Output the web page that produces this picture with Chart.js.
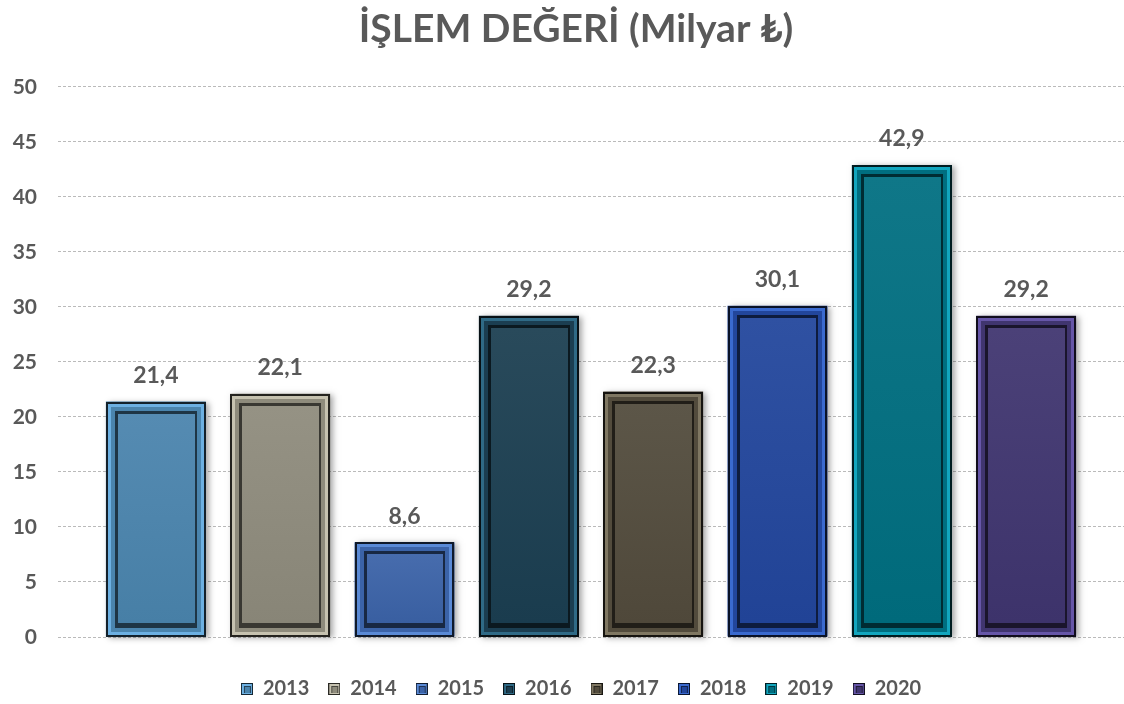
<!DOCTYPE html>
<html>
<head>
<meta charset="utf-8">
<script src="https://cdn.jsdelivr.net/npm/chart.js@4.4.1/dist/chart.umd.min.js"></script>
<style>
  html, body { margin: 0; padding: 0; background: #ffffff; }
  #wrap { width: 1124px; height: 704px; }
</style>
</head>
<body>
<div id="wrap"><canvas id="c" width="1124" height="704"></canvas></div>
<script>
// ---- data ----
const chartTitle = 'İŞLEM DEĞERİ (Milyar ₺)';
const categories = [''];
const seriesNames = ['2013', '2014', '2015', '2016', '2017', '2018', '2019', '2020'];
const seriesValues = [21.4, 22.1, 8.6, 29.2, 22.3, 30.1, 42.9, 29.2];
const yTicks = [0, 5, 10, 15, 20, 25, 30, 35, 40, 45, 50];

// ---- styles ----
const baseColors = ['#4a84ad', '#8e8b7c', '#3b63a8', '#1b3e51', '#524b3c', '#22469c', '#006e80', '#40356f'];
const lightColors = ['#6cb0e2', '#c6c2b0', '#5a8ad6', '#2f6a86', '#7f7762', '#3a6acf', '#12a6be', '#6656a8'];
const textColor = '#595959';
const FONT = 'Lato, "Open Sans", "DejaVu Sans", sans-serif';

function hexToRgb(h) {
  h = h.replace('#', '');
  return [parseInt(h.substr(0, 2), 16), parseInt(h.substr(2, 2), 16), parseInt(h.substr(4, 2), 16)];
}
function mix(hex, target, f) {
  const c = hexToRgb(hex);
  const r = c.map(v => Math.round(v + (target - v) * f));
  return 'rgb(' + r.join(',') + ')';
}

function drawBevel(ctx, l, t, r, b, i, withShadow) {
  const base = baseColors[i], light = lightColors[i];
  const dark = mix(base, 0, 0.75);
  const inner = mix(base, 0, 0.6);
  ctx.save();
  if (withShadow) {
    ctx.shadowColor = 'rgba(0,0,0,0.35)';
    ctx.shadowBlur = 6;
    ctx.shadowOffsetX = 3;
    ctx.shadowOffsetY = 1;
  }
  ctx.fillStyle = dark;
  ctx.fillRect(l, t, r - l, b - t);
  ctx.restore();
  ctx.fillStyle = light;
  ctx.fillRect(l + 2, t + 2, r - l - 4, b - t - 4);
  ctx.fillStyle = base;
  ctx.fillRect(l + 5, t + 5, r - l - 10, b - t - 10);
  ctx.fillStyle = inner;
  ctx.fillRect(l + 9, t + 9, r - l - 18, b - t - 18);
  const g = ctx.createLinearGradient(0, t + 12, 0, b - 14);
  g.addColorStop(0, mix(base, 255, 0.06));
  g.addColorStop(1, mix(base, 0, 0.04));
  ctx.fillStyle = g;
  ctx.fillRect(l + 12, t + 12, r - l - 23, b - t - 26);
}

function legendIcon(i) {
  const cv = document.createElement('canvas');
  cv.width = 12; cv.height = 12;
  const c = cv.getContext('2d');
  const base = baseColors[i], light = lightColors[i];
  c.fillStyle = mix(base, 0, 0.7); c.fillRect(0, 0, 12, 12);
  c.fillStyle = light; c.fillRect(1, 1, 10, 10);
  c.fillStyle = mix(base, 0, 0.5); c.fillRect(3, 3, 7, 7);
  c.fillStyle = base; c.fillRect(4, 4, 5, 6);
  return cv;
}

const shiftPlugin = {
  id: 'shift',
  afterLayout(chart) {
    if (chart.legend) { chart.legend.left -= 10; chart.legend.right -= 10; }
    if (chart.titleBlock) { chart.titleBlock.left += 8; chart.titleBlock.right += 8; }
  }
};

const bevelPlugin = {
  id: 'bevel',
  afterDatasetsDraw(chart) {
    const ctx = chart.ctx;
    chart.data.datasets.forEach((ds, i) => {
      const meta = chart.getDatasetMeta(i);
      if (meta.hidden) return;
      meta.data.forEach(bar => {
        const p = bar.getProps(['x', 'y', 'base', 'width'], true);
        const l = Math.round(p.x - p.width / 2), r = Math.round(p.x + p.width / 2);
        const t = Math.round(p.y), b = Math.round(p.base);
        drawBevel(ctx, l, t, r, b, i, true);
      });
    });
    // data labels
    ctx.save();
    ctx.font = 'bold 23px ' + FONT;
    ctx.fillStyle = textColor;
    ctx.textAlign = 'center';
    ctx.textBaseline = 'middle';
    chart.data.datasets.forEach((ds, i) => {
      const meta = chart.getDatasetMeta(i);
      meta.data.forEach((bar, j) => {
        const v = ds.data[j];
        ctx.fillText(v.toFixed(1).replace('.', ','), bar.x, bar.y - 26);
      });
    });
    ctx.restore();
  }
};

const datasets = seriesNames.map((name, i) => ({
  label: name,
  data: [seriesValues[i]],
  backgroundColor: baseColors[i],
  borderWidth: 0,
  categoryPercentage: 0.933,
  barPercentage: 0.804
}));

new Chart(document.getElementById('c'), {
  type: 'bar',
  data: { labels: categories, datasets: datasets },
  options: {
    responsive: false,
    animation: false,
    layout: { padding: { left: 12, right: 0, top: 0, bottom: -5 } },
    plugins: {
      title: {
        display: true,
        text: chartTitle,
        color: textColor,
        font: { family: FONT, size: 39, weight: 'bold' },
        padding: { top: 6, bottom: 34 }
      },
      legend: {
        position: 'bottom',
        fullSize: false,
        labels: {
          color: textColor,
          font: { family: FONT, size: 20, weight: 'bold' },
          usePointStyle: true,
          boxWidth: 12,
          boxHeight: 12,
          padding: 19,
          generateLabels(chart) {
            const items = Chart.defaults.plugins.legend.labels.generateLabels(chart);
            items.forEach((it, i) => { it.pointStyle = legendIcon(i); });
            return items;
          }
        }
      },
      tooltip: { enabled: false }
    },
    scales: {
      x: {
        ticks: { display: false },
        grid: { display: false },
        border: { display: false },
        afterFit(scale) { scale.height = 23; }
      },
      y: {
        min: 0,
        max: 50,
        afterBuildTicks(scale) { scale.ticks = yTicks.map(v => ({ value: v })); },
        afterFit(scale) { scale.width = 46; },
        ticks: {
          color: textColor,
          font: { family: FONT, size: 21, weight: 'bold' },
          padding: 21
        },
        grid: { color: '#bababa', lineWidth: 1, drawTicks: false },
        border: { display: false, dash: [3, 2] }
      }
    }
  },
  plugins: [shiftPlugin, bevelPlugin]
});
</script>
</body>
</html>
